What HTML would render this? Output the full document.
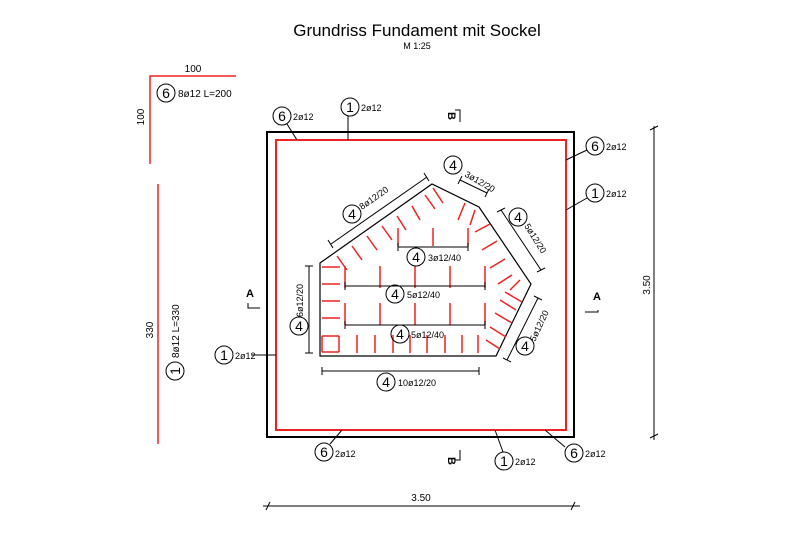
<!DOCTYPE html>
<html><head><meta charset="utf-8"><style>
html,body{margin:0;padding:0;background:#fff;}
svg{display:block;}
text{font-family:"Liberation Sans",sans-serif;fill:#000;}
</style></head><body>
<svg width="800" height="534" viewBox="0 0 800 534" xmlns="http://www.w3.org/2000/svg">
<text x="417" y="36" font-size="17" text-anchor="middle">Grundriss Fundament mit Sockel</text>
<text x="417" y="49" font-size="9" text-anchor="middle">M 1:25</text>

<polyline points="236,76 150,76 150,164" fill="none" stroke="#e22" stroke-width="1.5"/>
<text x="193" y="72" font-size="10" text-anchor="middle">100</text>
<text x="144" y="117" font-size="10" text-anchor="middle" transform="rotate(-90 144 117)">100</text>
<circle cx="166" cy="93" r="9" fill="none" stroke="#000"/>
<text x="166" y="98" font-size="14" text-anchor="middle">6</text>
<text x="178" y="97" font-size="10">8ø12 L=200</text>

<line x1="158" y1="184" x2="158" y2="444" stroke="#e22" stroke-width="1.5"/>
<text x="153" y="330" font-size="10" text-anchor="middle" transform="rotate(-90 153 330)">330</text>
<circle cx="175" cy="371" r="9" fill="none" stroke="#000"/>
<text x="175" y="376" font-size="14" text-anchor="middle" transform="rotate(-90 175 371)">1</text>
<text x="179" y="358" font-size="10" transform="rotate(-90 179 358)">8ø12 L=330</text>

<rect x="267" y="132" width="307" height="305" fill="none" stroke="#000" stroke-width="2"/>
<rect x="276" y="140" width="290" height="290" fill="none" stroke="#e22" stroke-width="2"/>

<g fill="none" stroke="#000" stroke-width="1">
<circle cx="282" cy="116" r="9"/><line x1="287" y1="124" x2="297" y2="140"/>
<circle cx="350" cy="107" r="9"/><line x1="348" y1="116" x2="348" y2="140"/>
<circle cx="595" cy="146" r="9"/><line x1="587" y1="150" x2="566" y2="160"/>
<circle cx="595" cy="193" r="9"/><line x1="587" y1="198" x2="566" y2="210"/>
<circle cx="224" cy="355" r="9"/><line x1="251" y1="355" x2="276" y2="355"/>
<circle cx="324" cy="452" r="9"/><line x1="330" y1="444" x2="342" y2="430"/>
<circle cx="504" cy="461" r="9"/><line x1="503" y1="452" x2="495" y2="430"/>
<circle cx="574" cy="453" r="9"/><line x1="565" y1="447" x2="545" y2="430"/>
</g>
<g font-size="14" text-anchor="middle">
<text x="282" y="121">6</text><text x="350" y="112">1</text><text x="595" y="151">6</text><text x="595" y="198">1</text>
<text x="224" y="360">1</text><text x="324" y="457">6</text><text x="504" y="466">1</text><text x="574" y="458">6</text>
</g>
<g font-size="9">
<text x="293" y="120">2ø12</text><text x="361" y="111">2ø12</text><text x="606" y="150">2ø12</text><text x="606" y="197">2ø12</text>
<text x="235" y="359">2ø12</text><text x="335" y="457">2ø12</text><text x="515" y="465">2ø12</text><text x="585" y="457">2ø12</text>
</g>

<g font-size="11" font-weight="bold">
<text x="448" y="116" transform="rotate(90 448 116)" text-anchor="middle">B</text>
<text x="448" y="461" transform="rotate(90 448 461)" text-anchor="middle">B</text>
<text x="250" y="297" text-anchor="middle">A</text>
<text x="597" y="300" text-anchor="middle">A</text>
</g>
<g fill="none" stroke="#000">
<polyline points="455,110 460,110 460,122"/><polyline points="455,460 460,460 460,450"/>
<polyline points="248,303 248,308 260,308"/><polyline points="598,310 598,312 585,312"/>
</g>

<g stroke="#000" stroke-width="1" fill="none">
<line x1="654" y1="126" x2="654" y2="440"/><line x1="650" y1="130" x2="658" y2="126"/><line x1="650" y1="438" x2="658" y2="434"/>
<line x1="263" y1="506" x2="580" y2="506"/><line x1="266" y1="510" x2="270" y2="502"/><line x1="571" y1="510" x2="575" y2="502"/>
</g>
<text x="650" y="285" font-size="10" text-anchor="middle" transform="rotate(-90 650 285)">3.50</text>
<text x="421" y="501" font-size="10" text-anchor="middle">3.50</text>

<polygon points="320,263 432,184 479,207 531,284 496,356 320,356" fill="none" stroke="#000" stroke-width="1.2"/>

<g stroke="#e22" stroke-width="1.5">
<line x1="322" y1="336" x2="339" y2="336"/><line x1="339" y1="336" x2="339" y2="352"/><line x1="322" y1="336" x2="322" y2="352"/><line x1="322" y1="352" x2="339" y2="352"/>
<line x1="322" y1="267" x2="340" y2="267"/><line x1="322" y1="284" x2="340" y2="284"/><line x1="322" y1="301" x2="340" y2="301"/><line x1="322" y1="318" x2="340" y2="318"/>
<line x1="357" y1="335" x2="357" y2="353"/><line x1="375" y1="335" x2="375" y2="353"/><line x1="393" y1="335" x2="393" y2="353"/><line x1="410" y1="335" x2="410" y2="353"/><line x1="427" y1="335" x2="427" y2="353"/><line x1="445" y1="335" x2="445" y2="353"/><line x1="462" y1="335" x2="462" y2="353"/><line x1="478" y1="335" x2="478" y2="353"/>
<line x1="345" y1="303" x2="345" y2="325"/><line x1="380" y1="303" x2="380" y2="325"/><line x1="415" y1="303" x2="415" y2="325"/><line x1="450" y1="303" x2="450" y2="325"/><line x1="485" y1="303" x2="485" y2="325"/>
<line x1="345" y1="266" x2="345" y2="288"/><line x1="380" y1="266" x2="380" y2="288"/><line x1="415" y1="266" x2="415" y2="288"/><line x1="450" y1="266" x2="450" y2="288"/><line x1="485" y1="266" x2="485" y2="288"/>
<line x1="398" y1="228" x2="398" y2="246"/><line x1="433" y1="228" x2="433" y2="246"/><line x1="468" y1="228" x2="468" y2="246"/>
<line x1="337" y1="256" x2="347" y2="270"/><line x1="352" y1="246" x2="362" y2="260"/><line x1="367" y1="236" x2="377" y2="250"/><line x1="382" y1="226" x2="392" y2="240"/><line x1="397" y1="216" x2="406" y2="230"/><line x1="412" y1="206" x2="420" y2="220"/><line x1="425" y1="195" x2="435" y2="209"/><line x1="433" y1="188" x2="443" y2="203"/>
<line x1="465" y1="203" x2="458" y2="220"/><line x1="475" y1="210" x2="470" y2="225"/>
<line x1="475" y1="232" x2="490" y2="224"/><line x1="482" y1="250" x2="497" y2="241"/><line x1="490" y1="268" x2="505" y2="259"/><line x1="498" y1="284" x2="512" y2="275"/>
<line x1="505" y1="292" x2="522" y2="302"/><line x1="510" y1="290" x2="520" y2="280"/>
<line x1="500" y1="300" x2="516" y2="310"/><line x1="495" y1="313" x2="512" y2="323"/><line x1="490" y1="327" x2="506" y2="337"/><line x1="486" y1="340" x2="500" y2="349"/>
</g>

<g stroke="#000" stroke-width="1">
<line x1="331" y1="244" x2="427" y2="177"/><line x1="460" y1="180" x2="487" y2="193"/><line x1="501" y1="210" x2="541" y2="270"/><line x1="538" y1="298" x2="507" y2="360"/>
<line x1="309" y1="266" x2="309" y2="353"/><line x1="322" y1="371" x2="479" y2="371"/>
<line x1="398" y1="247" x2="468" y2="247"/><line x1="345" y1="286" x2="485" y2="286"/><line x1="345" y1="325" x2="485" y2="325"/>
<line x1="305" y1="266" x2="313" y2="266"/><line x1="305" y1="353" x2="313" y2="353"/>
<line x1="322" y1="367" x2="322" y2="375"/><line x1="479" y1="367" x2="479" y2="375"/>
<line x1="398" y1="243" x2="398" y2="251"/><line x1="468" y1="243" x2="468" y2="251"/>
<line x1="345" y1="282" x2="345" y2="290"/><line x1="485" y1="282" x2="485" y2="290"/>
<line x1="345" y1="321" x2="345" y2="329"/><line x1="485" y1="321" x2="485" y2="329"/>
<line x1="328" y1="240" x2="333" y2="248"/><line x1="424" y1="173" x2="429" y2="181"/>
<line x1="458" y1="184" x2="462" y2="176"/><line x1="485" y1="197" x2="489" y2="189"/>
<line x1="497" y1="212" x2="505" y2="208"/><line x1="537" y1="272" x2="545" y2="268"/>
<line x1="534" y1="296" x2="542" y2="300"/><line x1="503" y1="358" x2="511" y2="362"/>
</g>
<g fill="none" stroke="#000">
<circle cx="352" cy="214" r="9"/><circle cx="453" cy="165" r="9"/><circle cx="518" cy="217" r="9"/><circle cx="525" cy="346" r="9"/>
<circle cx="299" cy="326" r="9"/><circle cx="386" cy="382" r="9"/><circle cx="416" cy="257" r="9"/><circle cx="395" cy="294" r="9"/><circle cx="400" cy="334" r="9"/>
</g>
<g font-size="14" text-anchor="middle">
<text x="352" y="219">4</text><text x="453" y="170">4</text><text x="518" y="222">4</text><text x="525" y="351">4</text>
<text x="299" y="331">4</text><text x="386" y="387">4</text><text x="416" y="262">4</text><text x="395" y="299">4</text><text x="400" y="339">4</text>
</g>
<g font-size="9">
<text x="362" y="210" transform="rotate(-35 362 210)">8ø12/20</text>
<text x="464" y="176" transform="rotate(30 464 176)">3ø12/20</text>
<text x="524" y="226" transform="rotate(58 524 226)">5ø12/20</text>
<text x="535" y="342" transform="rotate(-65 535 342)">5ø12/20</text>
<text x="303" y="317" transform="rotate(-90 303 317)">6ø12/20</text>
<text x="398" y="386">10ø12/20</text>
<text x="428" y="261">3ø12/40</text>
<text x="407" y="298">5ø12/40</text>
<text x="411" y="338">5ø12/40</text>
</g>
</svg>
</body></html>
